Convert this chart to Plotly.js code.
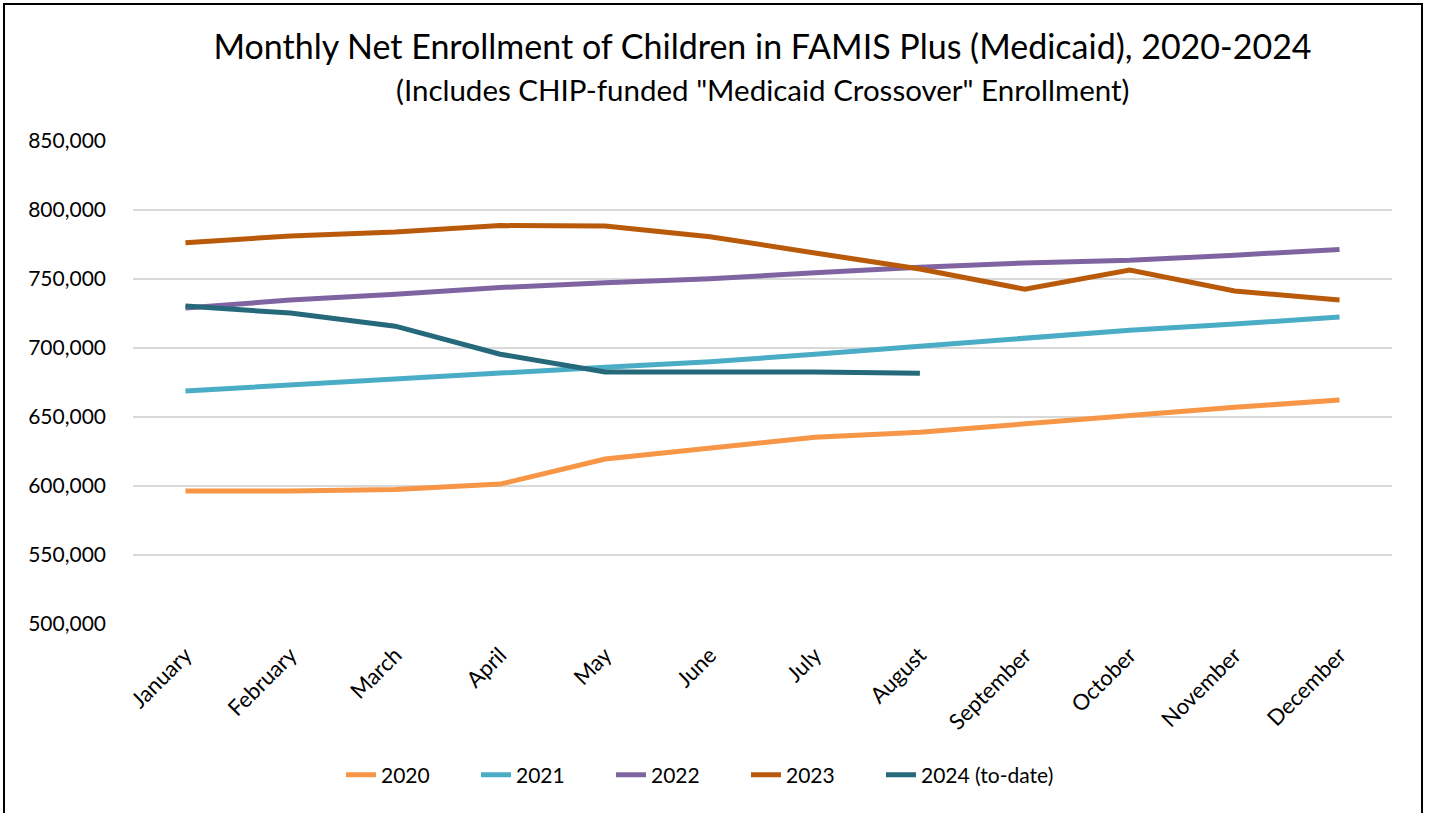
<!DOCTYPE html>
<html>
<head>
<meta charset="utf-8">
<script src="https://cdn.plot.ly/plotly-3.0.1.min.js"></script>
<style>
html,body{margin:0;padding:0;background:#fff;}
#chart{position:absolute;left:0;top:0;width:1429px;height:813px;}
#frame{position:absolute;left:3px;top:3px;width:1416px;height:830px;border:2px solid #000;pointer-events:none;}
</style>
</head>
<body>
<div id="chart"></div>
<div id="frame"></div>
<script>
const months = ["January","February","March","April","May","June","July","August","September","October","November","December"];
const y2020 = [596400, 596300, 597500, 601400, 619500, 627300, 635300, 639000, 645000, 651300, 657000, 662300];
const y2021 = [668900, 673000, 676900, 681800, 686100, 690000, 695500, 701300, 707100, 712900, 717400, 722400];
const y2022 = [729000, 734700, 739000, 743800, 747200, 750200, 754500, 758600, 761600, 763500, 767300, 771400];
const y2023 = [776300, 781200, 784100, 788700, 788400, 780600, 768900, 757200, 742600, 756500, 741300, 734700];
const y2024 = [730400, 725300, 715800, 695500, 682600, 682900, 682600, 681700];
const seriesNames = ["2020","2021","2022","2023","2024 (to-date)"];
const seriesColors = ["#F79646","#4BACC6","#8064A2","#B95A0B","#25697A"];
const seriesData = [y2020, y2021, y2022, y2023, y2024];
const yTicks = [500000,550000,600000,650000,700000,750000,800000,850000];

const FONT = "Lato, 'Noto Sans', sans-serif";

const traces = seriesData.map((vals, i) => ({
  type: "scatter",
  mode: "lines",
  x: months.slice(0, vals.length),
  y: vals,
  name: seriesNames[i],
  legend: i < 4 ? "legend" : "legend2",
  line: {color: seriesColors[i], width: 5},
  hoverinfo: "x+y+name"
}));

// plot area spans x 133..1392 and y 141..624 px
const plotLeft = 133, plotRight = 1392, plotTop = 141, plotBottom = 624;
const paperY = px => (plotBottom - px) / (plotBottom - plotTop);
const paperX = px => (px - plotLeft) / (plotRight - plotLeft);
const legendPitch = 135;
const legendStart = 341;

const legendFont = {family: FONT, size: 21, color: "#000"};

const layout = {
  width: 1429,
  height: 813,
  paper_bgcolor: "#fff",
  plot_bgcolor: "#fff",
  margin: {l: plotLeft, r: 1429 - plotRight, t: plotTop, b: 813 - plotBottom},
  font: {family: FONT, color: "#000", size: 21},
  title: {
    text: "Monthly Net Enrollment of Children in FAMIS Plus (Medicaid), 2020-2024",
    font: {family: FONT, size: 34, color: "#000"},
    x: 0.5, xref: "paper", xanchor: "center",
    y: 1 - 47/813, yref: "container", yanchor: "middle"
  },
  annotations: [{
    text: "(Includes CHIP-funded \"Medicaid Crossover\" Enrollment)",
    xref: "paper", yref: "paper",
    x: 0.5, y: paperY(90), xanchor: "center", yanchor: "middle",
    showarrow: false,
    font: {family: FONT, size: 29.5, color: "#000"}
  }],
  xaxis: {
    type: "category",
    categoryorder: "array",
    categoryarray: months,
    range: [-0.5, 11.5],
    tickangle: -45,
    showgrid: false,
    showline: false,
    zeroline: false,
    ticks: "",
    ticklabelstandoff: 13,
    ticklabelshift: 0,
    tickfont: {family: FONT, size: 22, color: "#000"},
    fixedrange: true
  },
  yaxis: {
    range: [500000, 850000],
    tickmode: "array",
    tickvals: yTicks,
    ticktext: yTicks.map(v => v.toLocaleString("en-US")),
    showgrid: true,
    gridcolor: "#D9D9D9",
    gridwidth: 1.5,
    zeroline: false,
    showline: false,
    ticks: "",
    ticklabelstandoff: 26,
    tickfont: {family: FONT, size: 21, color: "#000"},
    fixedrange: true
  },
  showlegend: true,
  legend: {
    orientation: "h",
    x: paperX(legendStart), xanchor: "left",
    y: 1 - 775/813, yref: "container", yanchor: "middle",
    font: legendFont,
    itemwidth: 30,
    entrywidth: legendPitch - 45,
    entrywidthmode: "pixels",
    traceorder: "normal"
  },
  legend2: {
    orientation: "h",
    x: paperX(legendStart + 4 * legendPitch), xanchor: "left",
    y: 1 - 775/813, yref: "container", yanchor: "middle",
    font: legendFont,
    itemwidth: 30
  }
};

Plotly.newPlot("chart", traces, layout, {displayModeBar: false});
</script>
</body>
</html>
